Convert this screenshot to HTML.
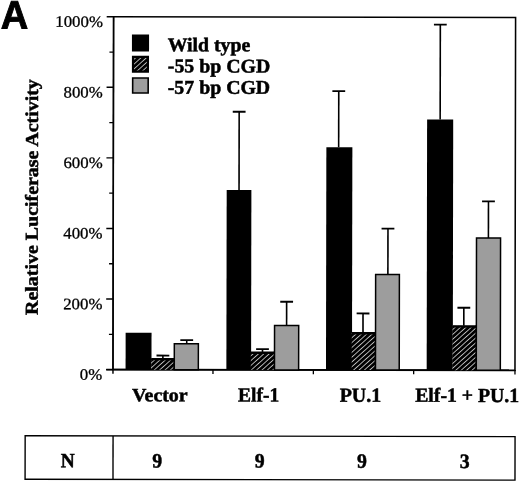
<!DOCTYPE html>
<html lang="en">
<head>
<meta charset="utf-8">
<title>Figure A</title>
<style>
html,body{margin:0;padding:0;background:#fff;}
body{width:520px;height:482px;overflow:hidden;}
svg{display:block;}
.s{font-family:"Liberation Serif","DejaVu Serif",serif;fill:#000;}
.b{font-weight:bold;}
.h{font-family:"Liberation Sans","DejaVu Sans",sans-serif;font-weight:bold;fill:#000;}
</style>
</head>
<body>
<svg width="520" height="482" viewBox="0 0 520 482">
<defs>
<pattern id="hatch" patternUnits="userSpaceOnUse" width="3.6" height="3.6" patternTransform="rotate(-42)">
<rect x="0" y="0" width="3.6" height="3.6" fill="#000"/>
<rect x="0" y="0" width="3.6" height="0.88" fill="#c4c4c4"/>
</pattern>
</defs>
<rect x="0" y="0" width="520" height="482" fill="#ffffff"/>
<g transform="rotate(0.1 260 241)">
<text class="h" font-size="39" stroke="#000" stroke-width="0.9" transform="translate(0.3,28.9) scale(0.975,1.015)">A</text>
<rect x="113.2" y="17" width="402" height="352.85" fill="none" stroke="#000" stroke-width="1.55"/>
<line x1="113.2" y1="17" x2="113.2" y2="374.1" stroke="#000" stroke-width="1.4"/>
<line x1="106.5" y1="369.85" x2="515.9" y2="369.85" stroke="#000" stroke-width="1.7"/>
<line x1="106.3" y1="369.85" x2="113.2" y2="369.85" stroke="#000" stroke-width="1.4"/>
<text class="s" font-size="16.0" text-anchor="end" stroke="#000" stroke-width="0.3" transform="translate(102.50,380.05) scale(1.05,1)">0%</text>
<line x1="109.1" y1="334.57" x2="113.2" y2="334.57" stroke="#000" stroke-width="1.3"/>
<line x1="106.3" y1="299.28" x2="113.2" y2="299.28" stroke="#000" stroke-width="1.4"/>
<text class="s" font-size="16.0" text-anchor="end" stroke="#000" stroke-width="0.3" transform="translate(102.50,309.48) scale(1.05,1)">200%</text>
<line x1="109.1" y1="264.00" x2="113.2" y2="264.00" stroke="#000" stroke-width="1.3"/>
<line x1="106.3" y1="228.71" x2="113.2" y2="228.71" stroke="#000" stroke-width="1.4"/>
<text class="s" font-size="16.0" text-anchor="end" stroke="#000" stroke-width="0.3" transform="translate(102.50,238.91) scale(1.05,1)">400%</text>
<line x1="109.1" y1="193.43" x2="113.2" y2="193.43" stroke="#000" stroke-width="1.3"/>
<line x1="106.3" y1="158.14" x2="113.2" y2="158.14" stroke="#000" stroke-width="1.4"/>
<text class="s" font-size="16.0" text-anchor="end" stroke="#000" stroke-width="0.3" transform="translate(102.50,168.34) scale(1.05,1)">600%</text>
<line x1="109.1" y1="122.85" x2="113.2" y2="122.85" stroke="#000" stroke-width="1.3"/>
<line x1="106.3" y1="87.57" x2="113.2" y2="87.57" stroke="#000" stroke-width="1.4"/>
<text class="s" font-size="16.0" text-anchor="end" stroke="#000" stroke-width="0.3" transform="translate(102.50,97.77) scale(1.05,1)">800%</text>
<line x1="109.1" y1="52.29" x2="113.2" y2="52.29" stroke="#000" stroke-width="1.3"/>
<line x1="106.3" y1="17.00" x2="113.2" y2="17.00" stroke="#000" stroke-width="1.4"/>
<text class="s" font-size="16.0" text-anchor="end" stroke="#000" stroke-width="0.3" transform="translate(102.50,27.20) scale(1.05,1)">1000%</text>
<line x1="213.2" y1="369.85" x2="213.2" y2="374.1" stroke="#000" stroke-width="1.3"/>
<line x1="313.6" y1="369.85" x2="313.6" y2="374.1" stroke="#000" stroke-width="1.3"/>
<line x1="413.9" y1="369.85" x2="413.9" y2="374.1" stroke="#000" stroke-width="1.3"/>
<line x1="515.2" y1="369.85" x2="515.2" y2="374.1" stroke="#000" stroke-width="1.3"/>
<text class="s b" font-size="18.2" text-anchor="start" stroke="#000" stroke-width="0.5" transform="translate(37.80,315.30) rotate(-90) scale(1.095,1)">Relative Luciferase Activity</text>
<rect x="131.6" y="34.8" width="17.1" height="16.9" fill="#000"/>
<rect x="132.7" y="57.0" width="14.9" height="14.9" fill="url(#hatch)" stroke="#000" stroke-width="2.2"/>
<rect x="132.4" y="78.2" width="15.5" height="15.0" fill="#9d9d9d" stroke="#000" stroke-width="1.6"/>
<text class="s b" font-size="19.4" text-anchor="start" stroke="#000" stroke-width="0.5" transform="translate(167.30,51.40) scale(1.02,1)">Wild type</text>
<text class="s b" font-size="19.4" text-anchor="start" stroke="#000" stroke-width="0.5" transform="translate(167.50,72.50) scale(1.022,1)">-55 bp CGD</text>
<text class="s b" font-size="19.4" text-anchor="start" stroke="#000" stroke-width="0.5" transform="translate(167.50,93.80) scale(1.022,1)">-57 bp CGD</text>
<rect x="125.80" y="333.00" width="25.90" height="36.85" fill="#000"/>
<line x1="163.10" y1="355.70" x2="163.10" y2="358.80" stroke="#000" stroke-width="1.6"/>
<line x1="156.70" y1="355.70" x2="169.50" y2="355.70" stroke="#000" stroke-width="1.8"/>
<rect x="151.40" y="358.80" width="23.10" height="11.05" fill="url(#hatch)"/>
<line x1="151.40" y1="359.35" x2="174.50" y2="359.35" stroke="#000" stroke-width="2.4"/>
<line x1="174.50" y1="358.10" x2="174.50" y2="369.85" stroke="#000" stroke-width="1.5"/>
<line x1="186.90" y1="340.30" x2="186.90" y2="343.70" stroke="#000" stroke-width="1.6"/>
<line x1="180.50" y1="340.30" x2="193.30" y2="340.30" stroke="#000" stroke-width="1.8"/>
<rect x="174.50" y="343.80" width="24.05" height="26.05" fill="#9d9d9d" stroke="#000" stroke-width="1.5"/>
<line x1="238.95" y1="111.80" x2="238.95" y2="190.10" stroke="#000" stroke-width="1.6"/>
<line x1="232.55" y1="111.80" x2="245.35" y2="111.80" stroke="#000" stroke-width="1.8"/>
<rect x="226.60" y="190.10" width="24.70" height="179.75" fill="#000"/>
<line x1="262.70" y1="349.10" x2="262.70" y2="352.20" stroke="#000" stroke-width="1.6"/>
<line x1="256.30" y1="349.10" x2="269.10" y2="349.10" stroke="#000" stroke-width="1.8"/>
<rect x="251.00" y="352.20" width="23.70" height="17.65" fill="url(#hatch)"/>
<line x1="251.00" y1="352.75" x2="274.70" y2="352.75" stroke="#000" stroke-width="2.4"/>
<line x1="274.70" y1="351.50" x2="274.70" y2="369.85" stroke="#000" stroke-width="1.5"/>
<line x1="286.75" y1="301.70" x2="286.75" y2="325.40" stroke="#000" stroke-width="1.6"/>
<line x1="280.35" y1="301.70" x2="293.15" y2="301.70" stroke="#000" stroke-width="1.8"/>
<rect x="274.70" y="325.50" width="24.15" height="44.35" fill="#9d9d9d" stroke="#000" stroke-width="1.5"/>
<line x1="338.50" y1="90.90" x2="338.50" y2="147.20" stroke="#000" stroke-width="1.6"/>
<line x1="332.10" y1="90.90" x2="344.90" y2="90.90" stroke="#000" stroke-width="1.8"/>
<rect x="326.20" y="147.20" width="26.00" height="222.65" fill="#000"/>
<line x1="363.15" y1="313.30" x2="363.15" y2="332.50" stroke="#000" stroke-width="1.6"/>
<line x1="356.75" y1="313.30" x2="369.55" y2="313.30" stroke="#000" stroke-width="1.8"/>
<rect x="351.90" y="332.50" width="23.80" height="37.35" fill="url(#hatch)"/>
<line x1="351.90" y1="333.05" x2="375.70" y2="333.05" stroke="#000" stroke-width="2.4"/>
<line x1="375.70" y1="331.80" x2="375.70" y2="369.85" stroke="#000" stroke-width="1.5"/>
<line x1="387.95" y1="228.40" x2="387.95" y2="274.10" stroke="#000" stroke-width="1.6"/>
<line x1="381.55" y1="228.40" x2="394.35" y2="228.40" stroke="#000" stroke-width="1.8"/>
<rect x="375.70" y="274.20" width="23.75" height="95.65" fill="#9d9d9d" stroke="#000" stroke-width="1.5"/>
<line x1="439.95" y1="24.30" x2="439.95" y2="119.20" stroke="#000" stroke-width="1.6"/>
<line x1="433.55" y1="24.30" x2="446.35" y2="24.30" stroke="#000" stroke-width="1.8"/>
<rect x="426.90" y="119.20" width="26.10" height="250.65" fill="#000"/>
<line x1="463.95" y1="307.40" x2="463.95" y2="325.50" stroke="#000" stroke-width="1.6"/>
<line x1="457.55" y1="307.40" x2="470.35" y2="307.40" stroke="#000" stroke-width="1.8"/>
<rect x="452.70" y="325.50" width="23.80" height="44.35" fill="url(#hatch)"/>
<line x1="452.70" y1="326.05" x2="476.50" y2="326.05" stroke="#000" stroke-width="2.4"/>
<line x1="476.50" y1="324.80" x2="476.50" y2="369.85" stroke="#000" stroke-width="1.5"/>
<line x1="488.40" y1="201.00" x2="488.40" y2="237.50" stroke="#000" stroke-width="1.6"/>
<line x1="482.00" y1="201.00" x2="494.80" y2="201.00" stroke="#000" stroke-width="1.8"/>
<rect x="476.50" y="237.60" width="24.05" height="132.25" fill="#9d9d9d" stroke="#000" stroke-width="1.5"/>
<text class="s b" font-size="18.8" text-anchor="middle" stroke="#000" stroke-width="0.5" transform="translate(160.10,401.50) scale(1.06,1)">Vector</text>
<text class="s b" font-size="20" text-anchor="middle" stroke="#000" stroke-width="0.5" transform="translate(258.90,401.50) scale(0.974,1)">Elf-1</text>
<text class="s b" font-size="20" text-anchor="middle" stroke="#000" stroke-width="0.5" transform="translate(360.70,401.50) scale(0.996,1)">PU.1</text>
<text class="s b" font-size="20" text-anchor="middle" stroke="#000" stroke-width="0.5" transform="translate(467.40,401.50) scale(0.987,1)">Elf-1 + PU.1</text>
<rect x="25.5" y="436.15" width="489.9" height="43.5" fill="none" stroke="#000" stroke-width="1.4"/>
<line x1="113.4" y1="436.15" x2="113.4" y2="479.65" stroke="#000" stroke-width="1.4"/>
<text class="s b" font-size="20.4" text-anchor="middle" stroke="#000" stroke-width="0.5" transform="translate(68.10,467.60) scale(0.95,1)">N</text>
<text class="s b" font-size="20.4" text-anchor="middle" stroke="#000" stroke-width="0.5" transform="translate(157.50,467.60) scale(0.97,1)">9</text>
<text class="s b" font-size="20.4" text-anchor="middle" stroke="#000" stroke-width="0.5" transform="translate(260.00,467.60) scale(0.97,1)">9</text>
<text class="s b" font-size="20.4" text-anchor="middle" stroke="#000" stroke-width="0.5" transform="translate(362.30,467.60) scale(0.97,1)">9</text>
<text class="s b" font-size="20.4" text-anchor="middle" stroke="#000" stroke-width="0.5" transform="translate(465.20,467.60) scale(0.97,1)">3</text>
</g>
</svg>
</body>
</html>
